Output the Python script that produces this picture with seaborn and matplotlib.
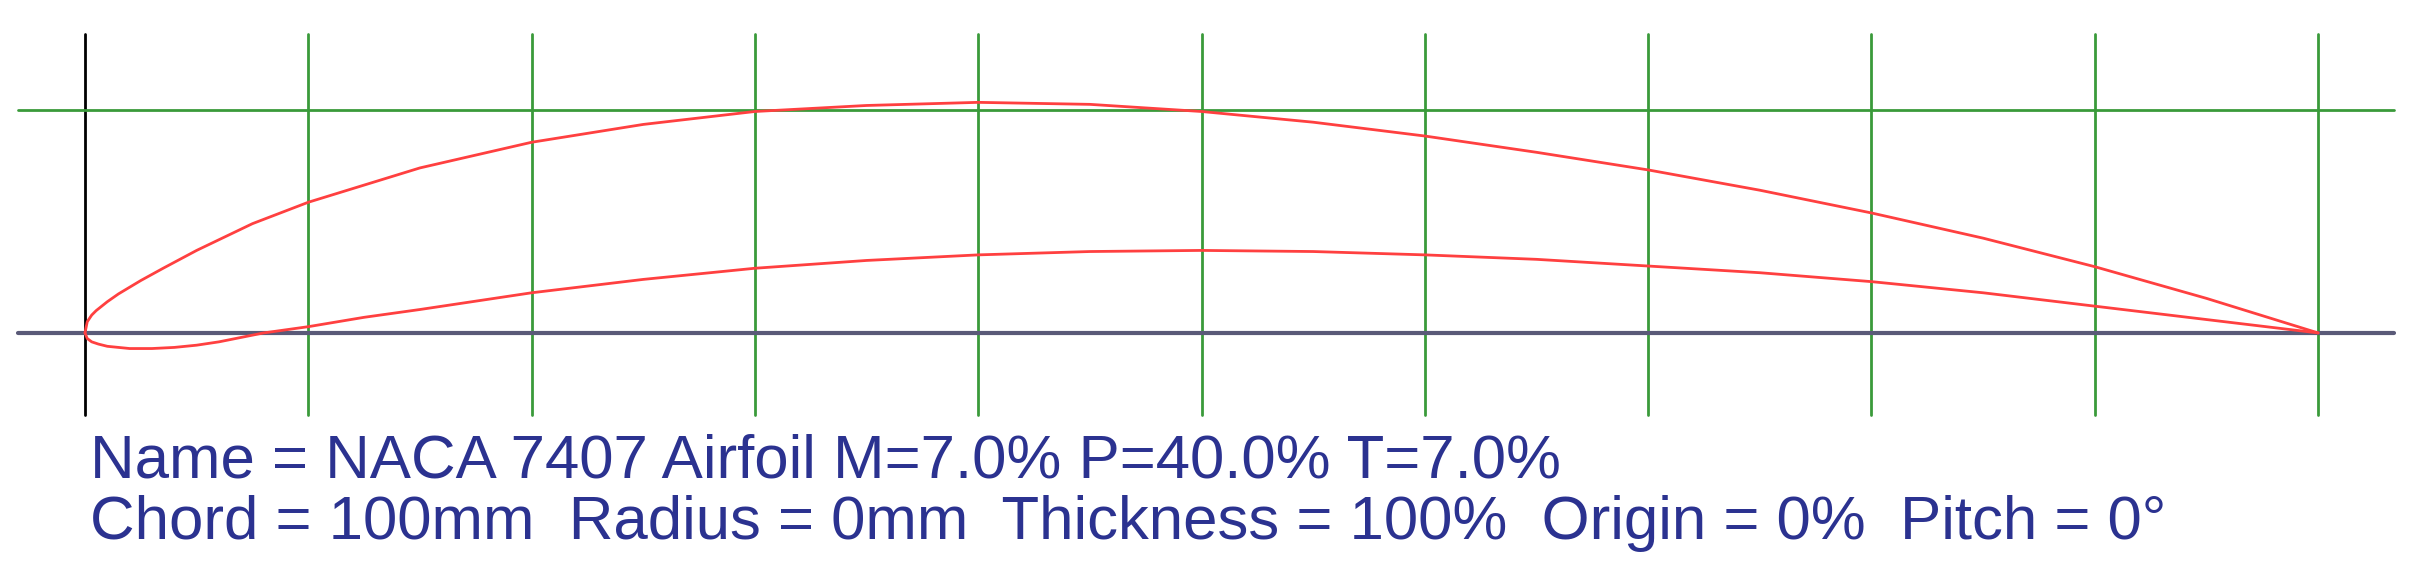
import numpy as np
import seaborn as sns
import matplotlib.pyplot as plt

sns.set_theme(style="white")
plt.rcParams['font.family'] = ['Liberation Sans', 'DejaVu Sans']

# airfoil coordinates (chord %, height %)
upper_x = [0, 0.1, 0.3, 0.5, 1, 1.5, 2.5, 3.5, 5, 7.5, 10, 15, 20, 25, 30, 35, 40,
           45, 50, 55, 60, 65, 70, 75, 80, 85, 90, 95, 100]
upper_y = [0, 0.5, 0.8, 1.0, 1.4, 1.75, 2.35, 2.9, 3.7, 4.9, 5.86, 7.4, 8.55, 9.35, 9.93,
           10.2, 10.34, 10.25, 9.93, 9.45, 8.83, 8.1, 7.31, 6.4, 5.38, 4.25, 2.97, 1.55, 0]
lower_x = [0, 0.1, 0.3, 0.6, 1, 2, 3, 4, 5, 6, 7, 8, 10, 12.5, 15, 20, 25, 30, 35,
           40, 45, 50, 55, 60, 65, 70, 75, 80, 85, 90, 95, 100]
lower_y = [0, -0.25, -0.4, -0.5, -0.6, -0.7, -0.7, -0.65, -0.55, -0.4, -0.2, 0.0, 0.28,
           0.7, 1.05, 1.8, 2.4, 2.9, 3.25, 3.5, 3.65, 3.7, 3.65, 3.5, 3.3, 3.0, 2.7,
           2.3, 1.8, 1.2, 0.6, 0]
grid_x = list(range(0, 101, 10))
grid_y = [10]
lines = ["Name = NACA 7407 Airfoil M=7.0% P=40.0% T=7.0%",
         "Chord = 100mm  Radius = 0mm  Thickness = 100%  Origin = 0%  Pitch = 0\u00b0"]

fig = plt.figure(figsize=(24.15, 5.82), dpi=100)
ax = fig.add_axes([0, 0, 1, 1])
ax.set_xlim(-3.806, 104.34)
ax.set_ylim(-11.17, 14.93)
ax.axis('off')

for gx in grid_x:
    col = 'black' if gx == 0 else '#3a9a3a'
    ax.plot([gx, gx], [-3.7, 13.4], color=col, lw=2.0, zorder=1)
for gy in grid_y:
    ax.plot([-3.0, 103.4], [gy, gy], color='#3a9a3a', lw=2.0, zorder=1)
ax.plot([-3.0, 103.4], [0, 0], color='#5a5a78', lw=3.0, zorder=2)

sns.lineplot(x=upper_x, y=upper_y, color='#ff4040', lw=2.0, ax=ax, sort=False, zorder=3)
sns.lineplot(x=lower_x, y=lower_y, color='#ff4040', lw=2.0, ax=ax, sort=False, zorder=3)

fig.text(90 / 2415, 1 - 462 / 582, lines[0], color='#2b3290', fontsize=44.5, va='center')
fig.text(90 / 2415, 1 - 523 / 582, lines[1], color='#2b3290', fontsize=44.5, va='center')

fig.savefig('out.png', dpi=100)
